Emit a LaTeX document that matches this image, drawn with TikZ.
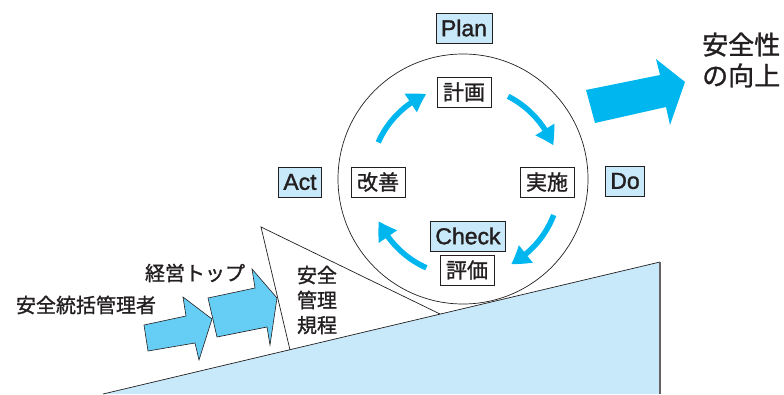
\documentclass[tikz,border=0pt]{standalone}
\usepackage{fontspec}
\setmainfont{Noto Sans CJK JP}[FakeBold=1.2]
\newfontfamily\latinface{Liberation Sans}[FakeBold=1.4]
\usetikzlibrary{arrows.meta,bending,calc}
\definecolor{pale}{HTML}{C8E9F9}
\definecolor{sky}{HTML}{66CDF5}
\definecolor{cyanblue}{HTML}{00B6EF}
\definecolor{ink}{HTML}{231F20}

\begin{document}
\begin{tikzpicture}[x=1pt,y=1pt]
	\tikzset{lbl/.style = {draw=ink,line width=.7pt,fill=pale,inner xsep=6pt,inner ysep=2pt,minimum height=30pt,font=\fontsize{21}{21}\selectfont,text=ink}}
	\tikzset{wbox/.style = {lbl,fill=white}}
	\tikzset{word/.style = {lbl,inner xsep=5pt,font=\latinface\fontsize{23}{23}\selectfont}}
	\tikzset{cyc/.style={cyanblue,line width=5.5pt,-{Triangle[length=18pt,width=21pt,bend]}}}
	\tikzset{arr/.style={draw=ink,line width=.6pt,fill=sky}}
	\tikzset{txt/.style={text=ink,align=center,inner sep=0pt}}
	\useasboundingbox (0,0) rectangle (784,394);

	% ground and rule wedge
	\fill[pale] (103,0) -- (660,132) -- (660,0) -- cycle;
	\draw[ink,line width=.7pt] (103,0) -- (660,132);
	\draw[ink!70,line width=1.2pt] (660,132) -- (660,0);
	\draw[ink,line width=.7pt] (290,44) -- (261,167) -- (440,80);
	\node[txt,font=\fontsize{20}{25}\selectfont] (rule) at (317,94) {安全\\管理\\規程};

	% cycle
	\node[draw=ink,line width=.7pt,circle,minimum size=250pt,inner sep=0pt] (wheel) at (463,215) {};
	\coordinate (c) at (465,213);

	% vertices
	\node[word] (plan) at (464,366) {Plan};
	\node[wbox] (keikaku) at (464,302) {計画};
	\node[word] (act) at (300,212) {Act};
	\node[wbox] (kaizen) at (378,212) {改善};
	\node[wbox] (jisshi) at (547,212) {実施};
	\node[word] (do) at (625,213) {Do};
	\node[word] (check) at (468,158) {Check};
	\node[wbox] (hyouka) at (467,124) {評価};

	% edges
	\coordinate (s1) at ($(c)+(156:95)$);
	\coordinate (s2) at ($(c)+(63:95)$);
	\coordinate (s3) at ($(c)+(-21:95)$);
	\coordinate (s4) at ($(c)+(-114:95)$);
	\draw[cyc] (s1) arc[start angle=156,end angle=114,radius=95];
	\draw[cyc] (s2) arc[start angle=63,end angle=22,radius=95];
	\draw[cyc] (s3) arc[start angle=-21,end angle=-61,radius=95];
	\draw[cyc] (s4) arc[start angle=-114,end angle=-155,radius=95];

	% pushing arrows
	\draw[arr] (144,69) -- (186,78) -- (183,97) -- (212,75) -- (199,34) -- (195,51) -- (148,43) -- cycle;
	\draw[arr] (208,96) -- (255,106) -- (252,125) -- (277,96) -- (270,49) -- (267,67) -- (217,57) -- cycle;
	\node[txt,font=\fontsize{20}{20}\selectfont] (tokatsu) at (86,89) {安全統括管理者};
	\node[txt,font=\fontsize{20}{20}\selectfont] (top) at (195,121) {経営トップ};

	% result
	\fill[cyanblue] (586,304) -- (660,319) -- (656,335) -- (685,312) -- (670,269) -- (666,287) -- (595,271) -- cycle;
	\node[txt,anchor=west,align=left,font=\fontsize{26}{31}\selectfont] (kojo) at (702,334) {安全性\\の向上};
\end{tikzpicture}
\end{document}
